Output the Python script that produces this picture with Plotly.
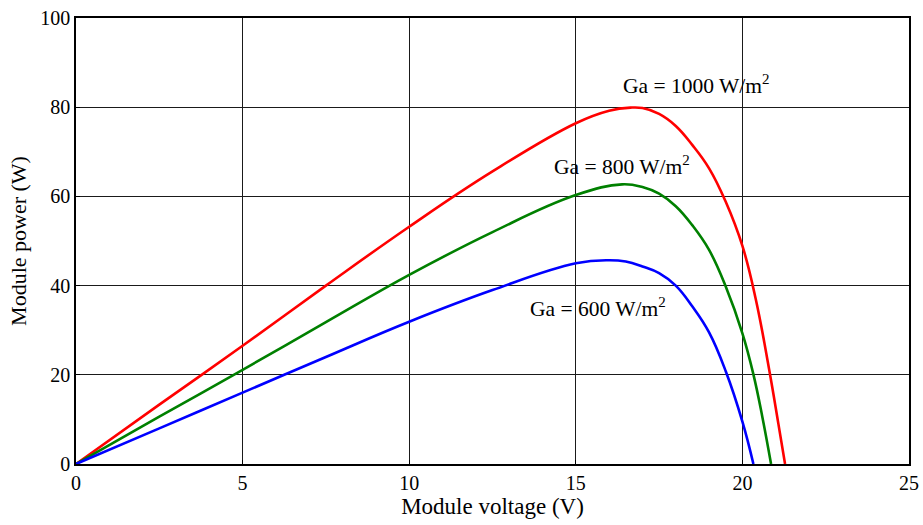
import plotly.graph_objects as go

# Module voltage (V) and power (W) for three irradiance levels
v_1000 = [0, 2.5, 5, 7.5, 10, 12.5, 15, 16.0, 16.64, 17.0, 17.5, 18.0, 18.5, 19.0, 19.5, 20.0, 20.4, 20.8, 21.08, 21.28]
p_1000 = [0, 13.3, 26.5, 40.0, 53.2, 65.6, 76.4, 79.2, 79.9, 79.8, 78.5, 75.8, 71.5, 66.3, 58.8, 48.9, 37.0, 21.3, 9.0, 0]

v_800 = [0, 2.5, 5, 7.5, 10, 12.5, 15, 16.39, 17.0, 17.5, 18.0, 18.5, 19.0, 19.5, 20.0, 20.33, 20.6, 20.86]
p_800 = [0, 10.6, 21.1, 31.8, 42.4, 52.0, 60.3, 62.7, 62.1, 60.6, 57.8, 53.5, 48.0, 39.8, 29.3, 20.1, 10.5, 0]

v_600 = [0, 2.5, 5, 7.5, 10, 12.5, 15, 15.99, 16.5, 17.0, 17.5, 18.0, 18.5, 19.0, 19.5, 20.0, 20.33]
p_600 = [0, 8.0, 16.0, 24.0, 31.9, 39.0, 45.0, 45.7, 45.4, 44.3, 42.8, 40.0, 35.3, 29.5, 20.8, 9.5, 0]

labels = ["Ga = 1000 W/m<sup>2</sup>", "Ga = 800 W/m<sup>2</sup>", "Ga = 600 W/m<sup>2</sup>"]
label_x = [18.62, 16.4, 15.68]
label_y = [85.0, 67.0, 35.0]

x_ticks = [0, 5, 10, 15, 20, 25]
y_ticks = [0, 20, 40, 60, 80, 100]

series = [
    (v_1000, p_1000, "#ff0000"),
    (v_800, p_800, "#008000"),
    (v_600, p_600, "#0000ff"),
]

fig = go.Figure()
for vx, py, col in series:
    fig.add_trace(go.Scatter(
        x=vx, y=py, mode="lines",
        line=dict(color=col, width=2.6, shape="spline", smoothing=1.2),
        showlegend=False, hoverinfo="skip",
    ))

for txt, lx, ly in zip(labels, label_x, label_y):
    fig.add_annotation(x=lx, y=ly, text=txt, showarrow=False,
                       font=dict(family="Liberation Serif", size=21.5, color="black"))

axis_common = dict(
    showgrid=True, gridcolor="#1a1a1a", gridwidth=1,
    showline=True, linecolor="black", linewidth=1.5, mirror=True,
    zeroline=False, ticks="inside", ticklen=4, tickcolor="black",
    tickfont=dict(family="Liberation Serif", size=20, color="black"),
    automargin=False,
)

fig.update_layout(
    width=923, height=525,
    margin=dict(l=76, r=14, t=18, b=61),
    paper_bgcolor="white", plot_bgcolor="white",
    font=dict(family="Liberation Serif", color="black"),
    xaxis=dict(range=[0, 25], tickvals=x_ticks,
               title=dict(text="Module voltage (V)", font=dict(size=23), standoff=4),
               **axis_common),
    yaxis=dict(range=[0, 100], tickvals=y_ticks,
               title=dict(text="Module power (W)", font=dict(size=22), standoff=8),
               **axis_common),
)

fig.write_html("out.html")
